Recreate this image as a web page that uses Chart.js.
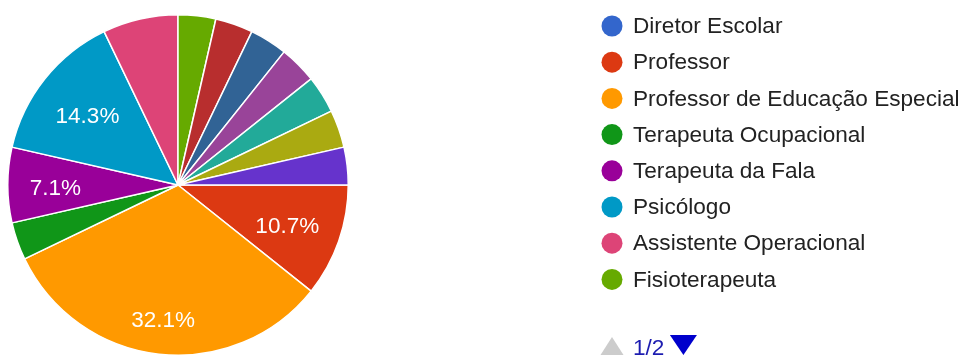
<!DOCTYPE html>
<html lang="pt">
<head>
<meta charset="utf-8">
<title>Função profissional</title>
<script src="https://cdn.jsdelivr.net/npm/chart.js@4/dist/chart.umd.min.js"></script>
<style>
  html, body { margin: 0; padding: 0; background: #ffffff; }
  #wrap { width: 966px; height: 356px; }
</style>
</head>
<body>
<div id="wrap"><canvas id="pie" width="966" height="356"></canvas></div>
<script>
// Respostas por função (28 respostas no total)
const categories = [
  'Diretor Escolar',
  'Professor',
  'Professor de Educação Especial',
  'Terapeuta Ocupacional',
  'Terapeuta da Fala',
  'Psicólogo',
  'Assistente Operacional',
  'Fisioterapeuta',
  'Outra resposta 1',
  'Outra resposta 2',
  'Outra resposta 3',
  'Outra resposta 4',
  'Outra resposta 5',
  'Outra resposta 6'
];
const counts = [0, 3, 9, 1, 2, 4, 2, 1, 1, 1, 1, 1, 1, 1];
const sliceColors = [
  '#3366cc', '#dc3912', '#ff9900', '#109618', '#990099', '#0099c6', '#dd4477',
  '#66aa00', '#b82e2e', '#316395', '#994499', '#22aa99', '#aaaa11', '#6633cc'
];
const legendPage = '1/2';
const legendPageSize = 8;

const FONT = '"Liberation Sans", Arial, sans-serif';

// Percentages written inside the slices wide enough to hold them
const sliceLabels = {
  id: 'sliceLabels',
  afterDatasetsDraw(chart, args, opts) {
    const ctx = chart.ctx;
    const data = chart.data.datasets[0].data;
    const total = data.reduce((a, b) => a + b, 0);
    const meta = chart.getDatasetMeta(0);
    ctx.save();
    ctx.fillStyle = '#ffffff';
    ctx.font = '22.5px ' + FONT;
    ctx.textAlign = 'center';
    ctx.textBaseline = 'middle';
    meta.data.forEach((arc, i) => {
      const share = data[i] / total;
      if (share < opts.minShare || opts.skip.includes(i)) return;
      const p = arc.getProps(['x', 'y', 'startAngle', 'endAngle', 'outerRadius'], true);
      const mid = (p.startAngle + p.endAngle) / 2;
      const f = opts.radiusFactor[i] ?? opts.defaultFactor;
      const r = p.outerRadius * f;
      ctx.fillText((share * 100).toFixed(1) + '%', p.x + Math.cos(mid) * r, p.y + Math.sin(mid) * r + opts.dy);
    });
    ctx.restore();
  }
};

// First page of the legend, with its pager underneath
const pagedLegend = {
  id: 'pagedLegend',
  afterDraw(chart, args, opts) {
    const ctx = chart.ctx;
    const labels = chart.data.labels;
    const colors = chart.data.datasets[0].backgroundColor;
    ctx.save();
    ctx.font = '22.6px ' + FONT;
    ctx.textBaseline = 'middle';
    ctx.textAlign = 'left';
    for (let i = 0; i < Math.min(legendPageSize, labels.length); i++) {
      const cy = opts.top + i * opts.rowGap;
      ctx.beginPath();
      ctx.arc(opts.dotX, cy, opts.dotR, 0, Math.PI * 2);
      ctx.fillStyle = colors[i];
      ctx.fill();
      ctx.fillStyle = '#222222';
      ctx.fillText(labels[i], opts.textX, cy + 1);
    }
    // pager
    const py = opts.pagerY;
    ctx.beginPath();
    ctx.moveTo(opts.dotX - 11.5, py + 10);
    ctx.lineTo(opts.dotX + 11.5, py + 10);
    ctx.lineTo(opts.dotX, py - 8);
    ctx.closePath();
    ctx.fillStyle = '#cccccc';
    ctx.fill();
    ctx.fillStyle = '#1c1cb0';
    ctx.textBaseline = 'alphabetic';
    ctx.fillText(legendPage, opts.textX, py + 10);
    const ax = opts.textX + ctx.measureText(legendPage).width + 19;
    ctx.beginPath();
    ctx.moveTo(ax - 13.5, py - 10);
    ctx.lineTo(ax + 13.5, py - 10);
    ctx.lineTo(ax, py + 10);
    ctx.closePath();
    ctx.fillStyle = '#0000cc';
    ctx.fill();
    ctx.restore();
  }
};

new Chart(document.getElementById('pie'), {
  type: 'pie',
  data: {
    labels: categories,
    datasets: [{
      data: counts,
      backgroundColor: sliceColors,
      borderColor: '#ffffff',
      borderWidth: 1.5,
      hoverBorderWidth: 1.5,
      hoverOffset: 0
    }]
  },
  options: {
    responsive: false,
    animation: false,
    rotation: 90,
    layout: { padding: { left: 7, top: 14, right: 617, bottom: 0 } },
    plugins: {
      legend: { display: false },
      tooltip: { enabled: false },
      sliceLabels: { minShare: 0.05, skip: [6], dy: 3.5, defaultFactor: 0.68, radiusFactor: { 2: 0.78, 4: 0.72 } },
      pagedLegend: { top: 26, rowGap: 36.2, dotX: 612, dotR: 10.5, textX: 633, pagerY: 345 }
    }
  },
  plugins: [sliceLabels, pagedLegend]
});
</script>
</body>
</html>
